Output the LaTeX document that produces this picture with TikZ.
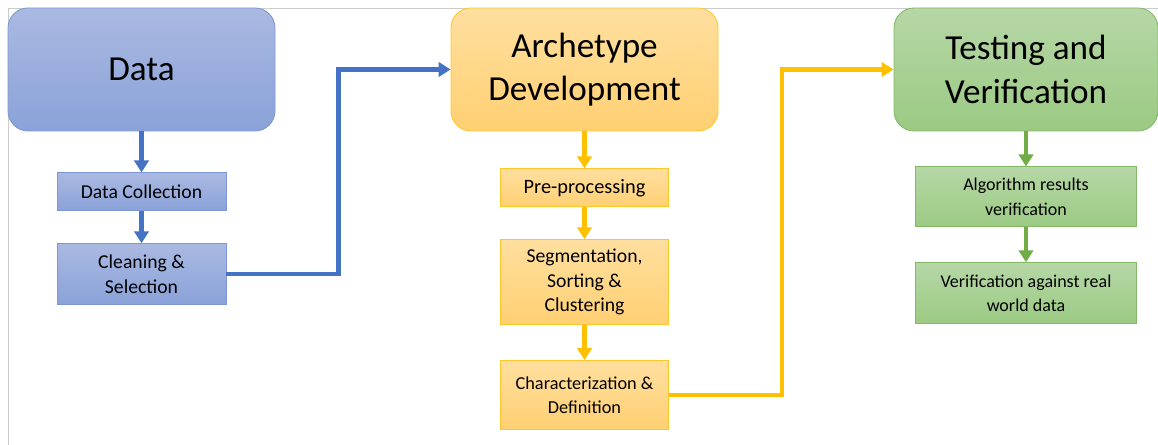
\documentclass[tikz,border=0pt]{standalone}
\usepackage{fontspec}
\setmainfont{Carlito}
\usetikzlibrary{arrows.meta, positioning}
\definecolor{bluetop}{HTML}{AAB9E1}
\definecolor{bluebot}{HTML}{8AA2D9}
\definecolor{blueedge}{HTML}{7C97D4}
\definecolor{blueline}{HTML}{4472C4}
\definecolor{yellowtop}{HTML}{FFDF9F}
\definecolor{yellowbot}{HTML}{FFD073}
\definecolor{yellowedge}{HTML}{FFC629}
\definecolor{yellowline}{HTML}{FFC000}
\definecolor{greentop}{HTML}{B6D7A6}
\definecolor{greenbot}{HTML}{9BCA83}
\definecolor{greenedge}{HTML}{83B866}
\definecolor{greenline}{HTML}{70AD47}
\tikzset{
  bigbox/.style={rectangle, rounded corners=0.5cm, align=center, minimum width=6.675cm, minimum height=3.075cm, font=\fontsize{25}{31}\selectfont, line width=0.6pt},
  smallbox/.style={rectangle, align=center, minimum width=4.225cm, inner sep=1mm, font=\fontsize{14}{17.5}\selectfont, line width=0.6pt},
  bluebox/.style={draw=blueedge, top color=bluetop, bottom color=bluebot},
  yellowbox/.style={draw=yellowedge, top color=yellowtop, bottom color=yellowbot},
  greenbox/.style={draw=greenedge, top color=greentop, bottom color=greenbot},
  flow/.style={-{Triangle[width=0.36cm, length=0.3cm]}, line width=0.11cm},
  blueflow/.style={flow, draw=blueline},
  yellowflow/.style={flow, draw=yellowline},
  greenflow/.style={flow, draw=greenline}
}

\begin{document}
\begin{tikzpicture}

\useasboundingbox (0,0) rectangle (28.95,11.125);
\draw[color=black!20, line width=0.5pt] (0.2,0) -- (0.2,10.925) -- (28.95,10.925);

% phase headers
\node[bigbox, bluebox] (data) at (3.5375,9.3875) {Data};
\node[bigbox, yellowbox] (arch) at (14.6125,9.3875) {Archetype\\Development};
\node[bigbox, greenbox, minimum width=6.6cm] (test) at (25.65,9.3875) {Testing and\\Verification};

% data steps
\node[smallbox, bluebox, minimum height=0.95cm, below=1.025cm of data] (collect) {Data Collection};
\node[smallbox, bluebox, minimum height=1.525cm, below=0.8cm of collect] (clean) {Cleaning \&\\Selection};

% archetype steps
\node[smallbox, yellowbox, minimum width=4.2cm, minimum height=0.95cm, below=0.925cm of arch, font=\fontsize{14.5}{17.5}\selectfont] (prep) {Pre-processing};
\node[smallbox, yellowbox, minimum width=4.2cm, minimum height=2.125cm, below=0.8cm of prep] (seg) {Segmentation,\\Sorting \&\\Clustering};
\node[smallbox, yellowbox, minimum width=4.2cm, minimum height=1.725cm, below=0.875cm of seg, font=\fontsize{13}{17.5}\selectfont] (char) {Characterization \&\\Definition};

% testing steps
\node[smallbox, greenbox, minimum width=5.525cm, minimum height=1.5cm, below=0.875cm of test, font=\fontsize{12.8}{17.5}\selectfont] (algo) {Algorithm results\\verification};
\node[smallbox, greenbox, minimum width=5.525cm, minimum height=1.525cm, below=0.875cm of algo, font=\fontsize{12.8}{17.5}\selectfont] (real) {Verification against real\\world data};

\draw[blueflow] (data) -- (collect);
\draw[blueflow] (collect) -- (clean);
\draw[blueflow] (clean.east) -- ++(2.8,0) |- (arch.west);

\draw[yellowflow] (arch) -- (prep);
\draw[yellowflow] (prep) -- (seg);
\draw[yellowflow] (seg) -- (char);
\draw[yellowflow] (char.east) -- ++(2.825,0) |- (test.west);

\draw[greenflow] (test) -- (algo);
\draw[greenflow] (algo) -- (real);

\end{tikzpicture}
\end{document}
